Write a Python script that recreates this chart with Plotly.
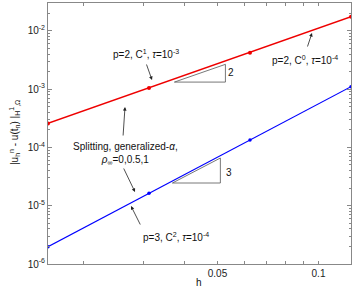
import plotly.graph_objects as go
import numpy as np

h = [1/64, 1/32, 1/16, 1/8]
err_p2 = [2.58e-4, 1.04e-3, 4.2e-3, 1.74e-2]
err_p3 = [1.98e-6, 1.63e-5, 1.34e-4, 1.1e-3]

tri2_h = [0.0372, 0.0528]
tri2_base = 1.32e-3
tri2_slope = 2
tri3_h = [0.0367, 0.051]
tri3_base = 2.45e-5
tri3_slope = 3

y_major = [1e-6, 1e-5, 1e-4, 1e-3, 1e-2]
y_major_text = ["10<sup>-6</sup>", "10<sup>-5</sup>", "10<sup>-4</sup>", "10<sup>-3</sup>", "10<sup>-2</sup>"]
x_ticks = [0.02, 0.03, 0.04, 0.05, 0.06, 0.07, 0.08, 0.09, 0.1]
x_ticktext = ["", "", "", "0.05", "", "", "", "", "0.1"]

y_minor = [m * d for d in [1e-6, 1e-5, 1e-4, 1e-3, 1e-2] for m in range(2, 10)]

FONT = "Liberation Sans, Arial, sans-serif"
TRI = "#555555"

fig = go.Figure()
fig.add_trace(go.Scatter(x=h, y=err_p2, mode="lines+markers",
                         line=dict(color="#ee0000", width=1.5),
                         marker=dict(color="#ee0000", size=4), showlegend=False))
fig.add_trace(go.Scatter(x=h, y=err_p3, mode="lines+markers",
                         line=dict(color="#0000ff", width=1.2),
                         marker=dict(color="#0000ff", size=3.5), showlegend=False))

def triangle(hs, base, slope):
    top = base * (hs[1] / hs[0]) ** slope
    return [hs[0], hs[1], hs[1], hs[0]], [base, top, base, base]

for hs, base, s in [(tri2_h, tri2_base, tri2_slope), (tri3_h, tri3_base, tri3_slope)]:
    tx, ty = triangle(hs, base, s)
    fig.add_trace(go.Scatter(x=tx, y=ty, mode="lines",
                             line=dict(color=TRI, width=0.8), showlegend=False))

def dom(px, py):
    return (px - 48) / 303, (264 - py) / 261

anns = []
# arrows
for head, tail in [((152, 80), (146, 63)), ((312, 33), (307, 48)),
                   ((125, 107), (123, 137)), ((135, 192), (123, 167)),
                   ((131, 206), (141, 226))]:
    x, y = dom(*head)
    anns.append(dict(x=x, y=y, xref="x domain", yref="y domain",
                     ax=tail[0] - head[0], ay=tail[1] - head[1],
                     showarrow=True, arrowhead=2, arrowsize=0.9, arrowwidth=0.8,
                     arrowcolor="#222222", text=""))
texts = [
    ((146, 54), "p=2, C<sup>1</sup>, <i>τ</i>=10<sup>-3</sup>", 0),
    ((305, 60), "p=2, C<sup>0</sup>, <i>τ</i>=10<sup>-4</sup>", 0),
    ((125, 153), "Splitting, generalized-<i>α</i>,<br><i>ρ</i><sub>∞</sub>=0,0.5,1", 0),
    ((176, 237), "p=3, C<sup>2</sup>, <i>τ</i>=10<sup>-4</sup>", 0),
    ((231, 72), "2", 0),
    ((229, 172), "3", 0),
    ((199, 282), "h", 0),
    ((14, 133), "|u<sub>h</sub><sup>n</sup> - u(t<sub>n</sub>) |<sub>H</sub><sup>1</sup><sub>,Ω</sub>", -90),
]
for (px, py), t, ang in texts:
    x, y = dom(px, py)
    anns.append(dict(x=x, y=y, xref="x domain", yref="y domain", text=t, textangle=ang,
                     showarrow=False, font=dict(size=10, color="#111111", family=FONT),
                     xanchor="center", yanchor="middle"))

axis_common = dict(showgrid=False, zeroline=False, showline=True, linecolor="#888888",
                   linewidth=1, mirror="ticks", ticks="inside", tickcolor="#888888",
                   automargin=False,
                   tickfont=dict(size=10, color="#222222", family=FONT))

fig.update_xaxes(type="log", range=[np.log10(1/64), np.log10(1/8)],
                 tickmode="array", tickvals=x_ticks, ticktext=x_ticktext, ticklen=3,
                 **axis_common)
fig.update_yaxes(type="log", range=[-6, -1.523],
                 tickmode="array", tickvals=y_major, ticktext=y_major_text, ticklen=4,
                 minor=dict(tickmode="array", tickvals=y_minor, ticks="inside", ticklen=2,
                            tickcolor="#888888"),
                 **axis_common)

fig.update_layout(width=354, height=291, margin=dict(l=48, r=3, t=3, b=27),
                  plot_bgcolor="white", paper_bgcolor="white",
                  annotations=anns, font=dict(family=FONT))
fig.write_html("out.html", config={"displayModeBar": False},
               post_script="document.body.style.margin='0';document.body.style.overflow='hidden';")
